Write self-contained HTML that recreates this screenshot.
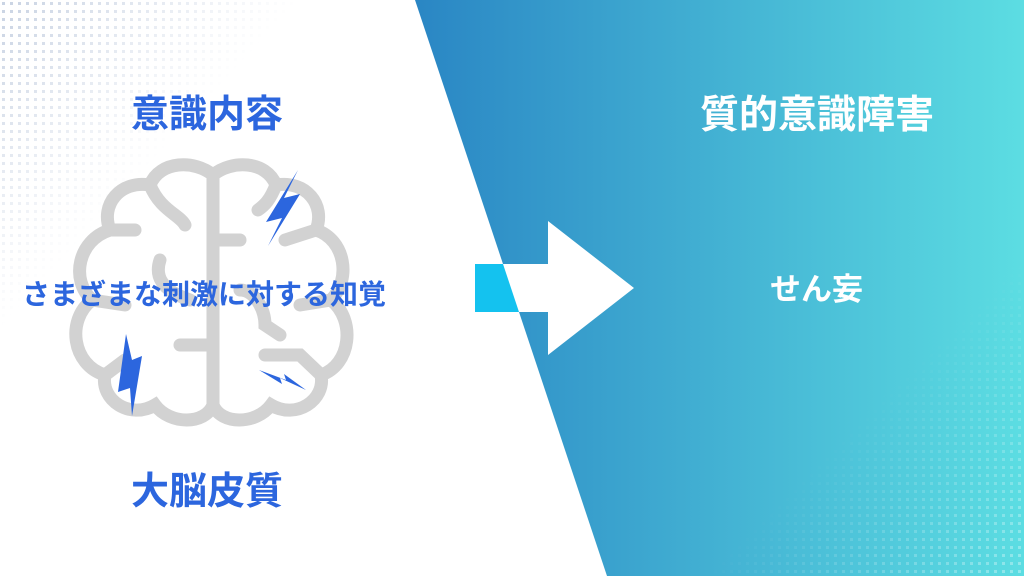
<!DOCTYPE html>
<html><head><meta charset="utf-8"><style>
html,body{margin:0;padding:0;width:1024px;height:576px;overflow:hidden;background:#fff}
.t{position:absolute;font-family:"Liberation Sans","Noto Sans CJK JP",sans-serif;font-weight:bold;white-space:nowrap;line-height:1}
</style></head><body>
<svg width="1024" height="576" style="position:absolute;left:0;top:0">
<defs>
<linearGradient id="g" x1="0" x2="1" y1="0" y2="0"><stop offset="0" stop-color="#2a86c4"/><stop offset="1" stop-color="#5cdde2"/></linearGradient>
<pattern id="d" width="8" height="8" patternUnits="userSpaceOnUse"><rect x="2" y="2" width="3" height="3" fill="#c9d3e3"/></pattern>
<pattern id="w" width="8" height="8" patternUnits="userSpaceOnUse"><rect x="2" y="2" width="3" height="3" fill="#ffffff" fill-opacity="0.35"/></pattern>
<linearGradient id="fade" x1="0" y1="0" x2="1" y2="1"><stop offset="0" stop-color="#fff" stop-opacity="0"/><stop offset="0.5" stop-color="#fff" stop-opacity="1"/></linearGradient>
<linearGradient id="fade2" x1="0" y1="0" x2="1" y2="1"><stop offset="0.5" stop-color="#fff" stop-opacity="1"/><stop offset="1" stop-color="#fff" stop-opacity="0"/></linearGradient>
<mask id="m"><rect x="700" y="250" width="324" height="326" fill="url(#fade2)"/></mask>
<mask id="m2"><rect x="700" y="250" width="324" height="326" fill="#fff"/><rect x="700" y="250" width="324" height="326" fill="#000" fill-opacity="1" mask="url(#m)"/></mask>
</defs>
<rect x="0" y="0" width="300" height="330" fill="url(#d)"/>
<rect x="0" y="0" width="300" height="330" fill="url(#fade)"/>
<polygon points="415,0 1024,0 1024,576 607,576" fill="url(#g)"/>
<rect x="700" y="250" width="324" height="326" fill="url(#w)" mask="url(#m2)"/>
<g fill="none" stroke="#d2d2d2" stroke-width="13" stroke-linecap="round">
<path d="M213,175 C195,160 160,160 150,185 C120,180 100,205 110,230 C78,240 70,280 92,300 C66,320 72,365 105,375 C100,400 130,420 155,405 C170,425 205,425 213,405 Z"/>
<path d="M213,175 C231,160 266,160 276,185 C306,180 326,205 316,230 C346,240 351,280 331,300 C356,320 351,365 321,375 C326,400 296,420 271,405 C256,425 221,425 213,405 Z"/>
<path d="M213,175 L213,405 M213,240 L240,240 M213,345 L180,345 M150,185 C160,210 180,215 185,225 M110,230 L135,230 M160,260 C155,275 160,290 190,300 M92,300 L125,305 M105,375 L125,360 M276,185 C270,200 265,205 258,210 M316,230 L285,240 M240,290 C255,290 265,310 265,325 L280,335 M331,300 L300,305 M321,375 L300,355 L265,355"/>
</g>
<g fill="#2c66de">
<polygon points="298,170 266,222 282,218 268,246 300,194 284,198"/>
<polygon points="126,334 118,392 130,388 132,416 142,356 132,360"/>
<polygon points="259,370 282,384 280,378 306,390 284,374 286,380"/>
</g>
<polygon points="475,264 548,264 548,221 634,288 548,355 548,312 475,312" fill="#fff"/>
<polygon points="475,264 503,264 519,312 475,312" fill="#14c2ef"/>
</svg>
<div class="t" style="left:131px;top:96px;font-size:38px;color:#2c66de">意識内容</div>
<div class="t" style="left:131px;top:473px;font-size:38px;color:#2c66de">大脳皮質</div>
<div class="t" style="left:22px;top:281px;font-size:28px;color:#2c66de;letter-spacing:0px">さまざまな刺激に対する知覚</div>
<div class="t" style="left:700px;top:96px;font-size:39px;color:#fff">質的意識障害</div>
<div class="t" style="left:770px;top:274px;font-size:31px;color:#fff">せん妄</div>
</body></html>
